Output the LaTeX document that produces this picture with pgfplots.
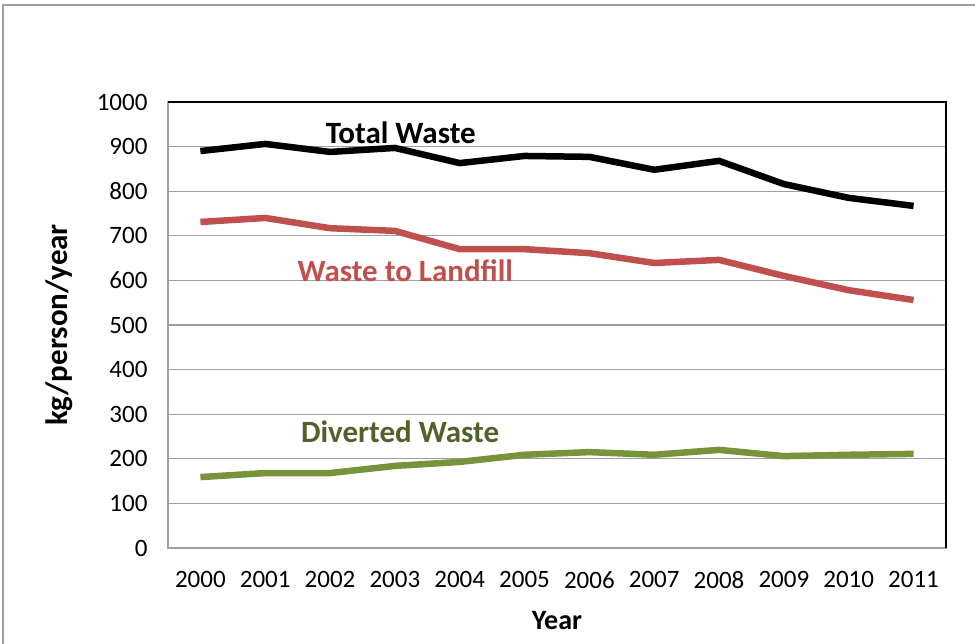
\documentclass[border=0pt]{standalone}
\usepackage{pgfplots}
\pgfplotsset{compat=1.18}
\usepackage{fontspec}
\setmainfont[Numbers=Lining]{Carlito}
\definecolor{tw}{HTML}{000000}
\definecolor{lf}{HTML}{C0504D}
\definecolor{dvline}{HTML}{77933C}
\definecolor{dvtext}{HTML}{4F6228}
\definecolor{gridc}{HTML}{A0A0A0}
\begin{document}
\begin{tikzpicture}
\useasboundingbox (0pt,0pt) rectangle (975pt,644pt);
\draw[gridc, line width=1.5pt] (3pt,0pt) -- (3pt,639pt) -- (975pt,639pt);
\begin{axis}[
  at={(168pt,96pt)}, anchor=south west,
  scale only axis, width=778pt, height=446pt,
  xmin=1999.5, xmax=2011.5, ymin=0, ymax=1000,
  xtick={2000,...,2011}, ytick={0,100,...,1000},
  /pgf/number format/1000 sep={},
  /pgf/number format/assume math mode=true,
  ticklabel style={font=\fontsize{25}{30}\selectfont},
  yticklabel style={xshift=-17pt},
  xticklabel style={yshift=-20pt},
  major tick length=0pt,
  ymajorgrids, grid style={gridc, line width=1.3pt},
  axis line style={gridc, line width=1.5pt},
  xlabel={\bfseries Year}, ylabel={\bfseries kg/person/year},
  xlabel style={at={(axis description cs:0.5,0)}, anchor=north, yshift=-60pt, font=\fontsize{28}{32}\selectfont\bfseries},
  ylabel style={at={(axis description cs:0,0.5)}, anchor=south, yshift=92pt, font=\fontsize{31}{36}\selectfont\bfseries},
  clip=false,
]
\addplot[tw, line width=6.5pt] coordinates {
(2000,890) (2001,906) (2002,888) (2003,897) (2004,863) (2005,879)
(2006,877) (2007,848) (2008,868) (2009,816) (2010,785) (2011,767)};
\addplot[lf, line width=6.5pt] coordinates {
(2000,731) (2001,740) (2002,717) (2003,711) (2004,670) (2005,670)
(2006,661) (2007,639) (2008,646) (2009,610) (2010,578) (2011,556)};
\addplot[dvline, line width=6.5pt] coordinates {
(2000,159) (2001,168) (2002,168) (2003,184) (2004,193) (2005,209)
(2006,215) (2007,209) (2008,220) (2009,206) (2010,209) (2011,211)};
\draw[black, line width=1.5pt] (rel axis cs:0,1) -- (rel axis cs:1,1) -- (rel axis cs:1,0);
\node[font=\fontsize{31}{36}\selectfont\bfseries, text=tw] at (axis cs:2003.09,930) {Total Waste};
\node[font=\fontsize{31}{36}\selectfont\bfseries, text=lf] at (axis cs:2003.16,621) {Waste to Landfill};
\node[font=\fontsize{31}{36}\selectfont\bfseries, text=dvtext] at (axis cs:2003.08,260) {Diverted Waste};
\end{axis}
\end{tikzpicture}
\end{document}
